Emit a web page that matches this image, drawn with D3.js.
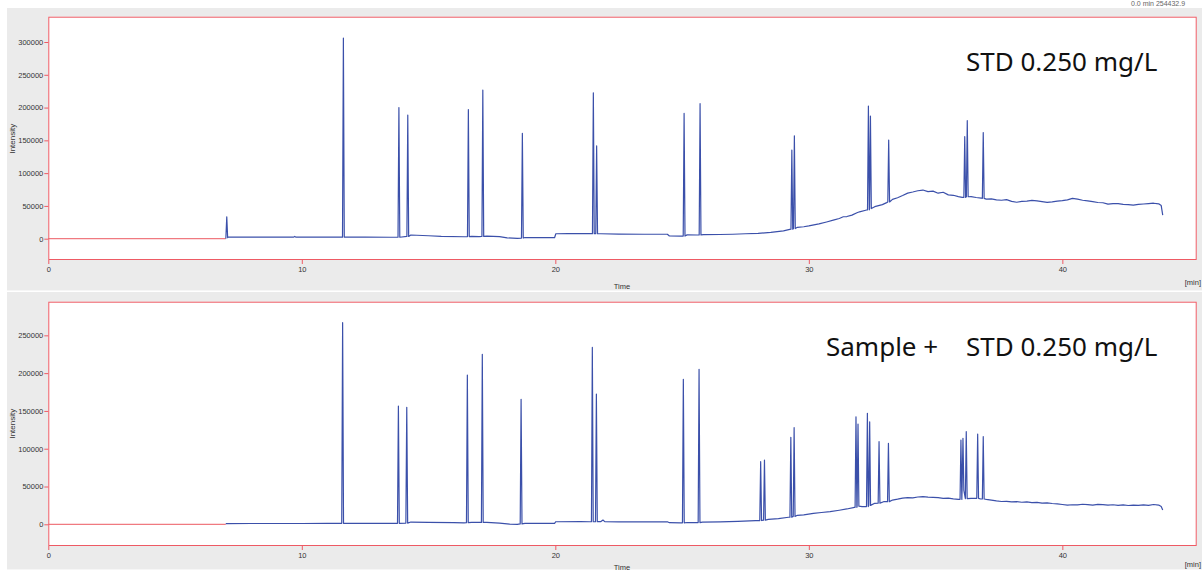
<!DOCTYPE html>
<html>
<head>
<meta charset="utf-8">
<script src="https://cdn.jsdelivr.net/npm/d3@7"></script>
<style>
  html, body { margin: 0; padding: 0; background: #fff; }
  svg { display: block; }
</style>
</head>
<body>
<div id="chart"></div>
<script>
// ticks
const timeTicks = [0, 10, 20, 30, 40];
const stdIntensityTicks = [0, 50000, 100000, 150000, 200000, 250000, 300000];
const spikeIntensityTicks = [0, 50000, 100000, 150000, 200000, 250000];

// acquisition starts at this time (min), before it the zero level is drawn in red
const runStart = 7.0;

// STD 0.250 mg/L : baseline [time, intensity]
const stdBaseline = [
  [7.0, 0], [7.09, 2800], [7.3, 2500], [8, 2400], [9, 2400], [9.68, 2400], [9.72, 3500], [9.76, 2400],
  [10.5, 2300], [11.5, 2300], [11.8, 2600], [12.5, 2400], [13.5, 2200], [13.75, 2200],
  [14.3, 5600], [15.0, 4500], [15.5, 3500], [16.4, 3000], [16.7, 3600], [17.0, 3300], [17.3, 4000],
  [17.8, 3200], [18.1, 1200], [18.5, 600], [18.8, 1800], [19.5, 1600], [19.97, 1500], [20.02, 7500],
  [20.5, 7600], [21.3, 7600], [21.8, 7500], [22.5, 6900], [23.5, 6800], [24.42, 6800], [24.5, 4200],
  [24.95, 4000], [25.2, 5800], [25.6, 5600], [25.85, 6100], [26.5, 6400], [27.0, 6800], [27.5, 7500],
  [28.0, 8200], [28.5, 9600], [29.0, 12000], [29.25, 14300], [29.55, 17400], [29.8, 18200],
  [30.0, 19500], [30.2, 21200], [30.4, 22500], [30.7, 25500], [31.0, 28600], [31.2, 30800],
  [31.36, 33500], [31.5, 33800], [31.7, 36000], [31.9, 39500], [32.0, 41000], [32.28, 43800],
  [32.6, 48800], [32.75, 50500], [32.9, 52000], [33.07, 55000], [33.3, 60000], [33.5, 62500],
  [33.7, 65800], [33.9, 69500], [34.1, 71200], [34.3, 73100], [34.5, 74200], [34.7, 71800],
  [34.9, 72600], [35.1, 69400], [35.3, 70800], [35.5, 66800], [35.7, 66200], [35.9, 64200],
  [36.05, 63000], [36.4, 64200], [36.6, 62800], [36.8, 62000], [37.0, 60300], [37.2, 60800],
  [37.4, 59200], [37.6, 58600], [37.8, 59600], [38.0, 57000], [38.2, 55600], [38.4, 56800],
  [38.6, 57300], [38.8, 58400], [39.0, 57600], [39.2, 56400], [39.4, 55300], [39.6, 56200],
  [39.8, 57400], [40.0, 58200], [40.2, 59200], [40.4, 61500], [40.6, 60400], [40.8, 58600],
  [41.0, 57800], [41.2, 56600], [41.4, 55200], [41.6, 54800], [41.8, 52700], [42.0, 53600],
  [42.2, 53400], [42.4, 52300], [42.6, 52000], [42.8, 51300], [43.0, 52200], [43.2, 52900],
  [43.4, 53600], [43.6, 54100], [43.8, 53200], [43.9, 50500], [43.96, 36000]
];

// STD 0.250 mg/L : peaks [retention time, base, apex]
const stdPeaks = [
  [7.04, 1500, 33500],
  [11.64, 2300, 306000],
  [13.83, 2200, 200000],
  [14.18, 3500, 188600],
  [16.57, 3200, 197000],
  [17.14, 3500, 226700],
  [18.70, 1000, 160700],
  [21.50, 7600, 222500],
  [21.63, 7600, 141500],
  [25.08, 4000, 191000],
  [25.71, 5800, 206000],
  [29.33, 14500, 135300],
  [29.43, 15500, 157000],
  [32.35, 44000, 202400],
  [32.43, 46000, 187000],
  [33.15, 56000, 150500],
  [36.15, 63000, 155600],
  [36.25, 64000, 180000],
  [36.88, 61500, 162000]
];

// Sample + STD 0.250 mg/L : baseline [time, intensity]
const spikeBaseline = [
  [7.0, 1000], [8, 1100], [9, 1100], [10, 1100], [11, 1200], [11.5, 1300], [11.8, 1300], [13, 1200],
  [13.7, 1300], [14.3, 3000], [15, 2600], [16, 2200], [16.4, 2000], [16.7, 2600], [17.0, 2500],
  [17.3, 2600], [17.8, 1500], [18.2, 300], [18.5, 0], [18.8, 1200], [19.5, 1300], [19.97, 1300],
  [20.02, 3400], [21.0, 3500], [21.35, 3400], [21.8, 3600], [21.88, 5700], [21.95, 3600],
  [22.5, 3200], [23.5, 3100], [24.42, 3300], [24.5, 2100], [24.95, 2000], [25.2, 2400], [25.55, 2300],
  [25.8, 3000], [26.5, 3300], [27.2, 3800], [27.9, 4800], [28.4, 6600], [28.8, 7500], [29.2, 9300],
  [29.55, 11900], [29.8, 12600], [30.18, 14500], [30.5, 15600], [30.84, 16700], [31.2, 18600],
  [31.5, 20300], [31.8, 22500], [32.1, 23300], [32.6, 27800], [32.95, 29900], [33.3, 32100],
  [33.5, 33200], [33.7, 34600], [33.9, 35400], [34.1, 35000], [34.3, 36100], [34.5, 36600],
  [34.7, 36000], [34.9, 35600], [35.1, 35200], [35.3, 34200], [35.5, 34600], [35.7, 33700],
  [35.9, 33000], [36.4, 34400], [36.78, 33500], [37.0, 33000], [37.2, 32000], [37.4, 31000],
  [37.6, 30200], [37.8, 30400], [38.0, 29700], [38.2, 29900], [38.4, 29200], [38.6, 29600],
  [38.8, 28600], [39.0, 28900], [39.2, 27900], [39.4, 28300], [39.6, 27500], [39.8, 27000],
  [40.0, 26200], [40.2, 25500], [40.4, 25900], [40.6, 25800], [40.8, 26500], [41.0, 26100],
  [41.2, 25400], [41.4, 26400], [41.6, 26000], [41.8, 25300], [42.0, 25900], [42.2, 25100],
  [42.4, 25600], [42.6, 24900], [42.8, 25500], [43.0, 25000], [43.2, 25600], [43.4, 25000],
  [43.6, 26200], [43.8, 25500], [43.9, 23500], [43.96, 18900]
];

// Sample + STD 0.250 mg/L : peaks [retention time, base, apex]
const spikePeaks = [
  [11.61, 1300, 266700],
  [13.81, 1300, 156500],
  [14.14, 1600, 154800],
  [16.53, 2100, 197500],
  [17.12, 2500, 225000],
  [18.65, 500, 165400],
  [21.46, 3400, 234000],
  [21.62, 3500, 172400],
  [25.05, 2000, 191800],
  [25.67, 2300, 205000],
  [28.10, 5000, 82800],
  [28.25, 5500, 85000],
  [29.29, 9500, 115000],
  [29.42, 10500, 127800],
  [31.86, 22500, 142300],
  [31.94, 24000, 132700],
  [32.31, 23500, 146800],
  [32.40, 25000, 135700],
  [32.77, 28000, 109300],
  [33.14, 30000, 107200],
  [36.00, 33000, 111500],
  [36.08, 45000, 113800],
  [36.21, 34000, 122500],
  [36.66, 34400, 119500],
  [36.88, 33500, 115900]
];

const W = 1202, H = 571;
const peakHalfWidth = 0.035;
const lineColor = '#3b50aa';
const frameColor = '#ee5a64';
const textColor = '#333';
const smallFont = '"Liberation Sans", Arial, sans-serif';

const svg = d3.select('#chart').append('svg')
  .attr('width', W)
  .attr('height', H);

// fondo blanco
svg.append('rect').attr('width', W).attr('height', H).attr('fill', '#fff');

// une linea base y picos en una sola traza
function buildTrace(baseline, peaks) {
  const pts = baseline.slice();
  peaks.forEach(([rt, base, apex]) => {
    pts.push([rt - peakHalfWidth, base], [rt, apex], [rt + peakHalfWidth, base]);
  });
  return pts.sort((a, b) => a[0] - b[0]);
}

function drawPanel(opts) {
  const g = svg.append('g');

  // panel gris
  g.append('rect')
    .attr('x', 7).attr('y', opts.bgTop)
    .attr('width', W - 7).attr('height', opts.bgHeight)
    .attr('fill', '#ebebeb');
  g.append('line')
    .attr('x1', 7).attr('x2', W)
    .attr('y1', opts.bgTop + opts.bgHeight - 0.5).attr('y2', opts.bgTop + opts.bgHeight - 0.5)
    .attr('stroke', '#f6f6f6');

  const x = d3.scaleLinear().domain([0, 45.3]).range([48.3, 1196.7]);
  const y = d3.scaleLinear().domain(opts.yDomain).range([opts.plotBottom, opts.plotTop]);

  // area del grafico
  g.append('rect')
    .attr('x', x.range()[0]).attr('y', opts.plotTop)
    .attr('width', x.range()[1] - x.range()[0])
    .attr('height', opts.plotBottom - opts.plotTop)
    .attr('fill', '#fff');

  const clipId = 'clip' + opts.id;
  svg.append('clipPath').attr('id', clipId)
    .append('rect')
    .attr('x', x.range()[0]).attr('y', opts.plotTop)
    .attr('width', x.range()[1] - x.range()[0])
    .attr('height', opts.plotBottom - opts.plotTop);

  // nivel cero antes del inicio
  g.append('line')
    .attr('x1', x(0)).attr('x2', x(runStart))
    .attr('y1', y(0)).attr('y2', y(0))
    .attr('stroke', '#f07a80').attr('stroke-width', 1.2);

  // traza
  const line = d3.line().x(d => x(d[0])).y(d => y(d[1]));
  g.append('path')
    .datum(buildTrace(opts.baseline, opts.peaks))
    .attr('clip-path', `url(#${clipId})`)
    .attr('d', line)
    .attr('fill', 'none')
    .attr('stroke', lineColor)
    .attr('stroke-width', 1.2)
    .attr('stroke-linejoin', 'round');

  // marco
  g.append('rect')
    .attr('x', x.range()[0] + 0.5).attr('y', opts.plotTop + 0.5)
    .attr('width', x.range()[1] - x.range()[0] - 1)
    .attr('height', opts.plotBottom - opts.plotTop - 1)
    .attr('fill', 'none')
    .attr('stroke', frameColor);

  // ejes
  const yAxis = g.append('g')
    .attr('transform', `translate(${x.range()[0]},0)`)
    .call(d3.axisLeft(y).tickValues(opts.yTicks).tickSize(4).tickPadding(1).tickFormat(d3.format('d')));
  const xAxis = g.append('g')
    .attr('transform', `translate(0,${opts.plotBottom})`)
    .call(d3.axisBottom(x).tickValues(timeTicks).tickSize(4).tickPadding(3).tickFormat(d3.format('d')));

  [yAxis, xAxis].forEach(a => {
    a.select('.domain').remove();
    a.selectAll('.tick line').attr('stroke', frameColor);
    a.selectAll('.tick text')
      .attr('fill', textColor)
      .style('font-family', smallFont)
      .style('font-size', '7.5px');
  });

  g.append('text')
    .attr('transform', `translate(15,${opts.plotTop + 122}) rotate(-90)`)
    .attr('text-anchor', 'middle')
    .attr('fill', textColor)
    .style('font-family', smallFont)
    .style('font-size', '8px')
    .text('Intensity');

  g.append('text')
    .attr('x', 622).attr('y', opts.timeY)
    .attr('text-anchor', 'middle')
    .attr('fill', textColor)
    .style('font-family', smallFont)
    .style('font-size', '7.5px')
    .text('Time');

  g.append('text')
    .attr('x', 1201).attr('y', opts.unitY)
    .attr('text-anchor', 'end')
    .attr('fill', textColor)
    .style('font-family', smallFont)
    .style('font-size', '7.5px')
    .text('[min]');

  // rotulo grande
  opts.labels.forEach(l => {
    g.append('text')
      .attr('x', l.x).attr('y', opts.plotTop + 54)
      .attr('fill', '#111')
      .style('font-family', '"Noto Sans", sans-serif')
      .style('font-size', '26px')
      .text(l.text);
  });
}

drawPanel({
  id: 'std',
  bgTop: 8, bgHeight: 283,
  plotTop: 16.7, plotBottom: 260,
  timeY: 289, unitY: 285,
  yDomain: [-32500, 338600],
  yTicks: stdIntensityTicks,
  baseline: stdBaseline,
  peaks: stdPeaks,
  labels: [{ x: 966, text: 'STD 0.250 mg/L' }]
});

drawPanel({
  id: 'spike',
  bgTop: 292, bgHeight: 278,
  plotTop: 301.7, plotBottom: 546,
  timeY: 570, unitY: 567,
  yDomain: [-28700, 294500],
  yTicks: spikeIntensityTicks,
  baseline: spikeBaseline,
  peaks: spikePeaks,
  labels: [{ x: 826, text: 'Sample +' }, { x: 966, text: 'STD 0.250 mg/L' }]
});

// texto de cabecera
svg.append('text')
  .attr('x', 1131).attr('y', 6)
  .attr('fill', '#666')
  .style('font-family', smallFont)
  .style('font-size', '7px')
  .text('0.0 min  254432.9');
</script>
</body>
</html>
